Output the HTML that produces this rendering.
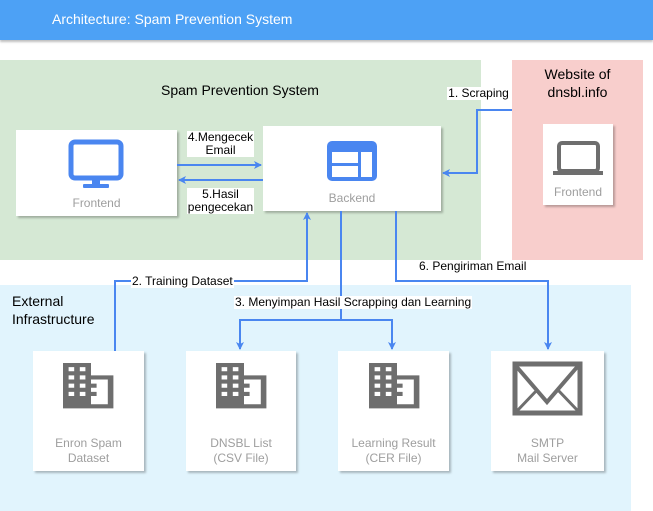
<!DOCTYPE html>
<html><head><meta charset="utf-8"><style>
body{margin:0;width:653px;height:511px;overflow:hidden;background:#fff;font-family:"Liberation Sans",sans-serif;position:relative}
div{position:absolute;box-sizing:border-box}
.card{background:#fff;box-shadow:2px 2px 2px rgba(0,0,0,0.25)}
.t{font-size:13px;color:#000;white-space:nowrap}
.g{color:#9e9e9e;font-size:12px;text-align:center;line-height:15px}
.lbl{background:#fff;font-size:12px;line-height:13px;text-align:center;white-space:nowrap}
</style></head><body>
<div style="left:0;top:0;width:653px;height:40px;background:#4da1f5;box-shadow:0 2px 2px rgba(0,0,0,0.25)"></div>
<div class="t" style="left:52px;top:11px;color:#fff;font-size:14px">Architecture: Spam Prevention System</div>
<div style="left:0;top:60px;width:481px;height:200px;background:#d5e8d4"></div>
<div style="left:512px;top:60px;width:131px;height:200px;background:#f8cecc"></div>
<div style="left:0;top:285px;width:631px;height:226px;background:#e1f4fd"></div>
<div class="t" style="left:161px;top:82px;font-size:14px">Spam Prevention System</div>
<div class="t" style="left:512px;top:65px;width:131px;text-align:center;font-size:14px;line-height:18px">Website of<br>dnsbl.info</div>
<div class="t" style="left:12px;top:292px;font-size:14px;line-height:18px">External<br>Infrastructure</div>

<div class="card" style="left:16px;top:130px;width:161px;height:86px"></div>
<div class="g" style="left:16px;top:196px;width:161px">Frontend</div>
<div class="card" style="left:263px;top:126px;width:178px;height:85px"></div>
<div class="g" style="left:263px;top:191px;width:178px">Backend</div>
<div class="card" style="left:543px;top:124px;width:70px;height:81px"></div>
<div class="g" style="left:543px;top:185px;width:70px">Frontend</div>

<div class="card" style="left:33px;top:351px;width:111px;height:120px"></div>
<div class="g" style="left:33px;top:436px;width:111px">Enron Spam<br>Dataset</div>
<div class="card" style="left:186px;top:351px;width:110px;height:120px"></div>
<div class="g" style="left:186px;top:436px;width:110px">DNSBL List<br>(CSV File)</div>
<div class="card" style="left:338px;top:351px;width:111px;height:120px"></div>
<div class="g" style="left:338px;top:436px;width:111px">Learning Result<br>(CER File)</div>
<div class="card" style="left:491px;top:351px;width:113px;height:120px"></div>
<div class="g" style="left:491px;top:436px;width:113px">SMTP<br>Mail Server</div>

<svg width="653" height="511" style="position:absolute;left:0;top:0">
<defs><marker id="a" markerWidth="8" markerHeight="8" refX="7" refY="4" orient="auto" markerUnits="userSpaceOnUse"><path d="M0,0 L8,4 L0,8 L2,4z" fill="#4a86f0"/></marker>
<g id="bld" fill="#6e6e6e"><path d="M0,0h20v12h16v32h-36z M4,4v4h4v-4z M12,4v4h4v-4z M4,12v4h4v-4z M12,12v4h4v-4z M4,20v4h4v-4z M12,20v4h4v-4z M4,28v4h4v-4z M12,28v4h4v-4z M20,16v4h4v4h-4v4h4v4h-4v8h12v-24z" fill-rule="evenodd"/></g></defs>
<g fill="none" stroke="#4a86f0" stroke-width="2">
<path d="M177,165H261" marker-end="url(#a)"/>
<path d="M263,180H179" marker-end="url(#a)"/>
<path d="M512,110H477V173H443" marker-end="url(#a)"/>
<path d="M115,351V281H307V213" marker-end="url(#a)"/>
<path d="M341,211V320H240V349" marker-end="url(#a)"/>
<path d="M341,320H392V349" marker-end="url(#a)"/>
<path d="M396,211V281H548V349" marker-end="url(#a)"/>
</g>
<rect x="71" y="142" width="50" height="36" rx="4" fill="none" stroke="#4a86f0" stroke-width="5"/>
<rect x="92" y="178" width="8" height="7" fill="#4a86f0"/><rect x="83" y="184" width="26" height="4" rx="1" fill="#4a86f0"/>
<rect x="327" y="141" width="50" height="40" rx="5" fill="#4a86f0"/>
<rect x="332" y="152" width="26" height="11" fill="#fff"/><rect x="332" y="166" width="26" height="11" fill="#fff"/><rect x="361" y="152" width="11" height="25" fill="#fff"/>
<rect x="559" y="143" width="39" height="28" rx="3" fill="none" stroke="#6e6e6e" stroke-width="4"/>
<rect x="553" y="171" width="50" height="4" fill="#6e6e6e"/>
<use href="#bld" transform="translate(63,363) scale(1.4,1.03)"/>
<use href="#bld" transform="translate(216,363) scale(1.4,1.03)"/>
<use href="#bld" transform="translate(369,363) scale(1.4,1.03)"/>
<rect x="515" y="364" width="65" height="49" fill="none" stroke="#6e6e6e" stroke-width="5"/>
<path d="M516,366L547,402L578,366" fill="none" stroke="#6e6e6e" stroke-width="4"/>
<path d="M517,411L538,389M578,411L557,389" stroke="#6e6e6e" stroke-width="3"/>
</svg>
<div class="lbl" style="left:187px;top:131px;width:67px">4.Mengecek<br>Email</div>
<div class="lbl" style="left:187px;top:188px;width:67px">5.Hasil<br>pengecekan</div>
<div class="lbl" style="left:447px;top:87px;width:63px">1. Scraping</div>
<div class="lbl" style="left:131px;top:275px;padding:0 1px">2. Training Dataset</div>
<div class="lbl" style="left:234px;top:296px;padding:0 1px">3. Menyimpan Hasil Scrapping dan Learning</div>
<div class="lbl" style="left:418px;top:260px;padding:0 1px;background:none">6. Pengiriman Email</div>
</body></html>
